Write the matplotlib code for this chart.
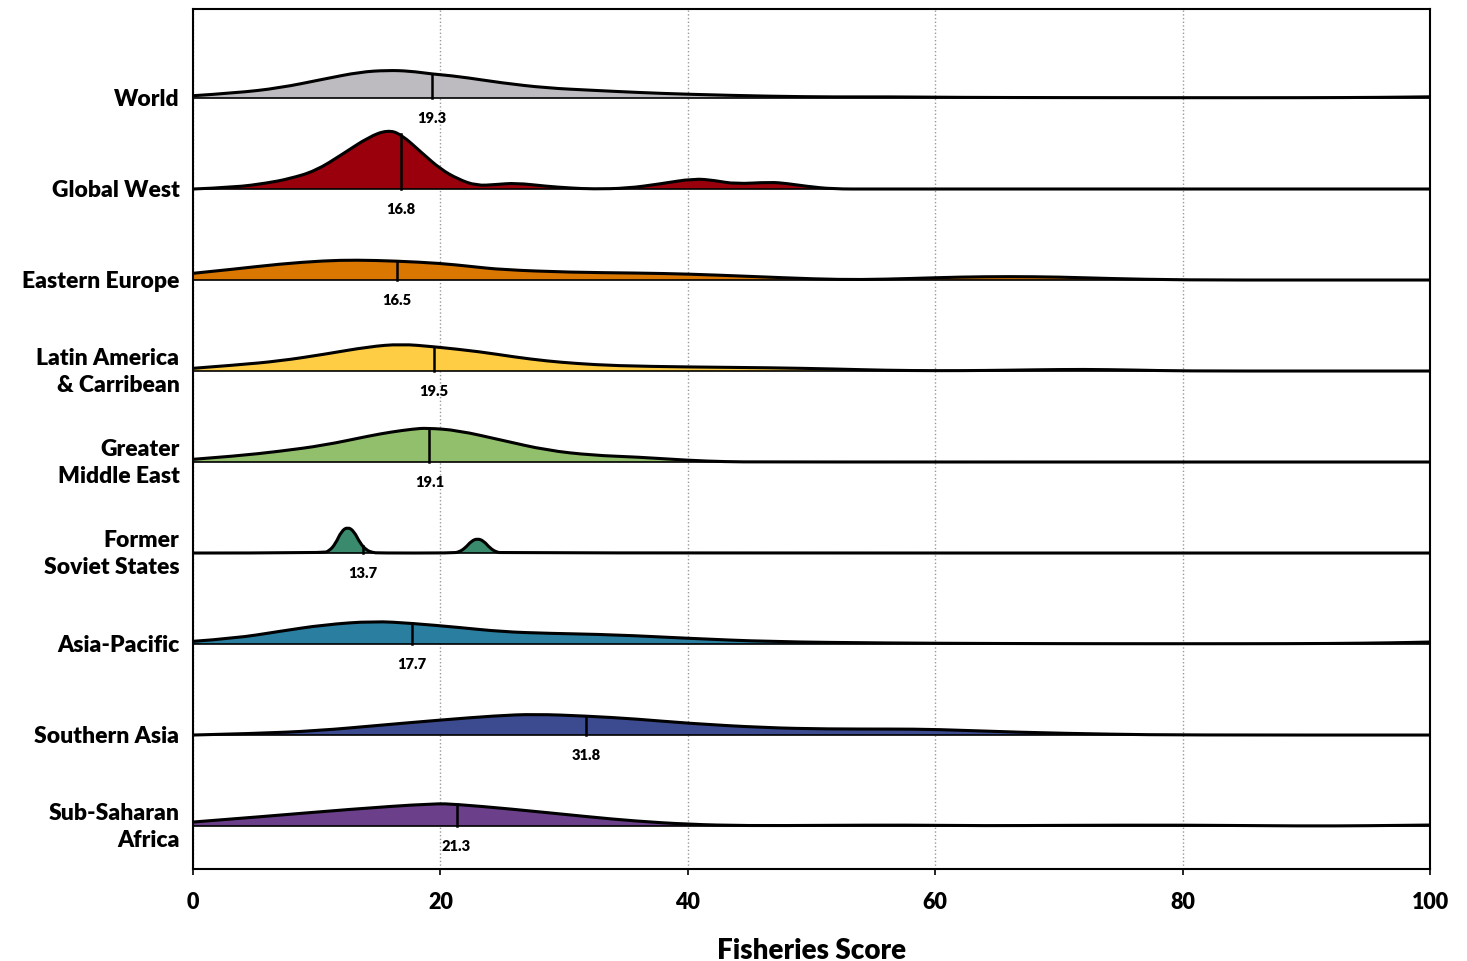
import matplotlib
matplotlib.use("Agg")
import matplotlib.pyplot as plt
from matplotlib.path import Path
from matplotlib.patches import PathPatch
import numpy as np

plt.rcParams['font.family'] = ['Lato', 'DejaVu Sans']

# regions from top to bottom
regions = ["World", "Global West", "Eastern Europe", "Latin America\n& Carribean",
           "Greater\nMiddle East", "Former\nSoviet States", "Asia-Pacific",
           "Southern Asia", "Sub-Saharan\nAfrica"]
colors = ["#bdbbc0", "#99000b", "#d97700", "#ffcd44", "#92bf6c",
          "#3a8a6e", "#2a7ea0", "#3c4b90", "#6b3f8a"]
means = [19.3, 16.8, 16.5, 19.5, 19.1, 13.7, 17.7, 31.8, 21.3]

# density curves (score, relative density)
world_x = [0, 3.4, 7, 10.6, 13.5, 15.7, 17.5, 19.3, 21.4, 25, 28.6, 32.3, 36, 40, 46.7, 52, 56, 62, 70, 80, 90, 96, 100]
world_d = [2.3, 5, 10, 19, 26, 27.7, 27, 24, 21.7, 15, 10, 7.7, 5.5, 3.7, 1.7, 1.0, 1.2, 0.6, 0.4, 0.3, 0.3, 0.6, 1.2]

west_x = [0, 3.4, 6, 7.7, 9.9, 12.1, 14.2, 15.7, 16.8, 18.6, 20, 21.4, 22.9, 24.5, 26.1, 28.6, 30.5, 32.3, 35.1,
          37.7, 40.5, 42.2, 43.8, 46.7, 48, 49.6, 51.7, 55, 100]
west_d = [0, 1.7, 6, 10, 18, 35, 52, 59, 55, 35, 20, 10, 3.3, 4.5, 6, 2.7, 1, 0, 0.7,
          5, 10.5, 8.5, 5, 6.9, 5.5, 2.7, 0, 0, 0]

east_x = [0, 3.4, 7, 10.6, 13.2, 16.4, 20, 22.5, 25, 30.5, 35.9, 40, 44.9, 50.3, 54, 58, 62, 66, 70, 74, 80, 90, 100]
east_d = [6.7, 11, 16, 19.3, 20, 19, 16.7, 13.5, 10.3, 7.7, 7, 6, 3.7, 1, 0.3, 1.5, 3, 3.5, 3, 1.5, 0, 0, 0]

latam_x = [0, 3.5, 7, 10.6, 14.2, 16.8, 19.5, 23.2, 26, 28.6, 31, 34.1, 40, 46.7, 52, 56, 60, 64, 68, 72, 76, 80, 90, 100]
latam_d = [2.7, 6, 10, 16.7, 24.3, 27, 24.3, 19.3, 14, 10, 7.5, 5.3, 4, 3.3, 2, 0.7, 0.3, 0.5, 1.2, 1.7, 1.0, 0, 0, 0]

mideast_x = [0, 3.5, 7, 10.6, 14.2, 16, 17.8, 18.9, 21.4, 25, 28.6, 32.3, 35.9, 40, 43, 46, 100]
mideast_d = [2.7, 6, 10.7, 16.7, 26, 30, 33, 34, 31.7, 21.7, 11.7, 6.7, 5, 1.7, 0.3, 0, 0]

soviet_x = [0, 10.5, 11, 11.5, 12, 12.5, 13, 13.5, 14, 14.5, 15, 21, 21.5, 22, 22.5, 23, 23.5, 24, 24.5, 25, 100]
soviet_d = [0, 0, 2, 9, 22, 26, 22, 10, 3, 0.5, 0, 0, 1, 5, 12, 14.5, 12, 5, 1, 0, 0]

asia_x = [0, 3.4, 7, 10.6, 14.6, 17.7, 21.4, 25, 28.6, 34.1, 40, 46.7, 56, 65, 75, 85, 92, 97, 100]
asia_d = [2.7, 5.7, 12.7, 19.3, 22.9, 20.7, 16.7, 12.3, 10.7, 9.3, 5.7, 2.3, 1, 0.5, 0.3, 0.3, 0.5, 1.2, 2]

south_x = [0, 5, 10.1, 15.3, 20, 24.5, 27.6, 31.8, 35.9, 40, 46.2, 51.3, 56.5, 60, 66.8, 74.5, 80, 100]
south_d = [0, 1.5, 4.3, 10, 15, 19.3, 20.9, 19, 16, 11.7, 7.3, 6, 6, 5.7, 2.7, 0.7, 0, 0]

ssa_x = [0, 6.2, 12.6, 19.5, 21.3, 25.5, 31.9, 35.7, 40, 44.7, 51.2, 57.6, 64, 70.4, 80, 89.7, 95, 100]
ssa_d = [4, 10, 16.7, 22.6, 21.7, 17.3, 9.3, 5, 1.7, 0.3, 0.7, 1, 0.3, 0.7, 1, 0, 0.3, 1]

curves = [(world_x, world_d), (west_x, west_d), (east_x, east_d), (latam_x, latam_d),
          (mideast_x, mideast_d), (soviet_x, soviet_d), (asia_x, asia_d),
          (south_x, south_d), (ssa_x, ssa_d)]


def smooth_verts(xs, ys):
    # quadratic bezier through the midpoints, read points as control points
    verts = [(xs[0], ys[0])]
    codes = [Path.MOVETO]
    for i in range(1, len(xs) - 1):
        verts += [(xs[i], ys[i]), ((xs[i] + xs[i + 1]) / 2, (ys[i] + ys[i + 1]) / 2)]
        codes += [Path.CURVE3, Path.CURVE3]
    verts.append((xs[-1], ys[-1]))
    codes.append(Path.LINETO)
    return verts, codes


fig = plt.figure(figsize=(14.67, 9.62), dpi=100)
ax = fig.add_axes([0.1316, 0.0956, 0.8432, 0.894])

scale = 1 / 91.0
n = len(regions)
for i, (name, col, m, (xs, ds)) in enumerate(zip(regions, colors, means, curves)):
    base = n - 1 - i
    xs = np.array(xs, dtype=float)
    ys = base + np.array(ds) * scale
    verts, codes = smooth_verts(xs, ys)
    fill = Path(verts + [(xs[-1], base), (xs[0], base), (xs[0], base)],
                codes + [Path.LINETO, Path.LINETO, Path.CLOSEPOLY])
    ax.add_patch(PathPatch(fill, facecolor=col, lw=0, zorder=2))
    ax.add_patch(PathPatch(Path(verts, codes), facecolor="none", edgecolor="black",
                           lw=2.2, joinstyle="round", zorder=3))
    ax.plot([0, 100], [base, base], color="black", lw=1.2, zorder=3)
    top = np.interp(m, xs, ys)
    ax.plot([m, m], [base, top], color="black", lw=1.8, zorder=4)
    ax.text(m, base - 0.21, f"{m}", ha="center", va="center", fontsize=10.5,
            fontweight="heavy", zorder=5)
    ax.text(-1.1, base, name, ha="right", va="center", fontsize=16.5,
            fontweight="heavy", linespacing=1.3, clip_on=False)

ax.set_xlim(0, 100)
ax.set_ylim(-0.4725, 8.978)
ax.set_yticks([])
ax.set_xticks([0, 20, 40, 60, 80, 100])
ax.tick_params(axis="x", labelsize=15.5, length=4, width=1.2, pad=12)
for lab in ax.get_xticklabels():
    lab.set_fontweight("heavy")
ax.grid(axis="x", color="#999999", linestyle=":", lw=1.0, zorder=0)
for s in ax.spines.values():
    s.set_linewidth(1.5)
ax.set_xlabel("Fisheries Score", fontsize=20, fontweight="heavy", labelpad=18)

fig.savefig("out.png", dpi=100)
